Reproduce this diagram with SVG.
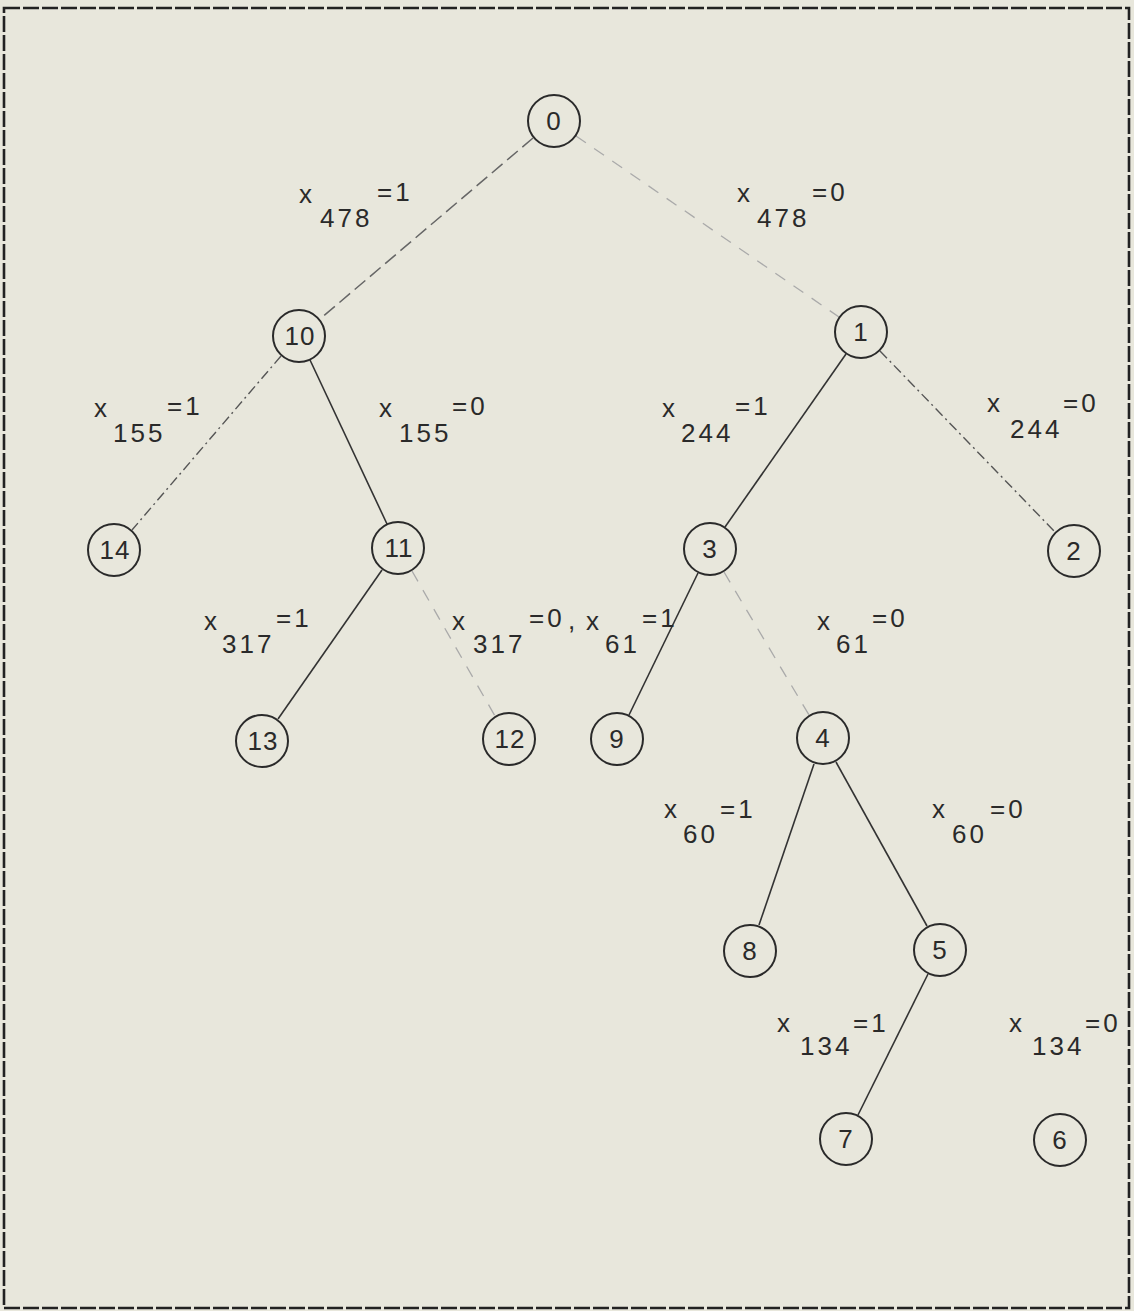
<svg xmlns="http://www.w3.org/2000/svg" width="1134" height="1311" viewBox="0 0 1134 1311">
<style>
.bg{fill:#e8e7dc}
.frame{fill:none;stroke:#222;stroke-width:2.6;stroke-dasharray:16 3}
.node circle{fill:none;stroke:#2a2a2a;stroke-width:2}
.node text{font-family:"Liberation Sans",Arial,sans-serif;font-size:26px;fill:#2a2a2a;text-anchor:middle;letter-spacing:1px}
.lbl text{font-family:"Liberation Sans",Arial,sans-serif;font-size:26px;fill:#2a2a2a;letter-spacing:3px}
.e{stroke:#333;stroke-width:1.6;fill:none}
.dash{stroke:#666;stroke-width:1.5;stroke-dasharray:14 6}
.dashdot{stroke:#555;stroke-width:1.4;stroke-dasharray:10 4 2 4}
.faint{stroke:#aaa;stroke-width:1.3;stroke-dasharray:12 10}
</style>
<rect class="bg" x="0" y="0" width="1134" height="1311"/>
<rect class="frame" x="4" y="8" width="1125" height="1300"/>

<g id="connectors">
<line class="e dash" x1="533" y1="138" x2="320" y2="319"/>
<line class="e faint" x1="576" y1="136" x2="839" y2="317"/>
<line class="e dashdot" x1="281" y1="356" x2="132" y2="530"/>
<line class="e" x1="310" y1="360" x2="387" y2="524"/>
<line class="e" x1="846" y1="354" x2="725" y2="527"/>
<line class="e dashdot" x1="880" y1="351" x2="1055" y2="532"/>
<line class="e" x1="382" y1="570" x2="278" y2="719"/>
<line class="e faint" x1="412" y1="571" x2="495" y2="716"/>
<line class="e" x1="698" y1="573" x2="629" y2="715"/>
<line class="e faint" x1="724" y1="572" x2="809" y2="715"/>
<line class="e" x1="814" y1="764" x2="759" y2="925"/>
<line class="e" x1="836" y1="762" x2="927" y2="926"/>
<line class="e" x1="928" y1="974" x2="858" y2="1115"/>
</g>

<g id="node0" class="node"><circle cx="554" cy="121" r="26"/><text x="554" y="130">0</text></g>
<g id="node10" class="node"><circle cx="299" cy="336" r="26"/><text x="300" y="345">10</text></g>
<g id="node1" class="node"><circle cx="861" cy="332" r="26"/><text x="861" y="341">1</text></g>
<g id="node14" class="node"><circle cx="114" cy="550" r="26"/><text x="115" y="559">14</text></g>
<g id="node11" class="node"><circle cx="398" cy="548" r="26"/><text x="399" y="557">11</text></g>
<g id="node3" class="node"><circle cx="710" cy="549" r="26"/><text x="710" y="558">3</text></g>
<g id="node2" class="node"><circle cx="1074" cy="551" r="26"/><text x="1074" y="560">2</text></g>
<g id="node13" class="node"><circle cx="262" cy="741" r="26"/><text x="263" y="750">13</text></g>
<g id="node12" class="node"><circle cx="509" cy="739" r="26"/><text x="510" y="748">12</text></g>
<g id="node9" class="node"><circle cx="617" cy="739" r="26"/><text x="617" y="748">9</text></g>
<g id="node4" class="node"><circle cx="823" cy="738" r="26"/><text x="823" y="747">4</text></g>
<g id="node8" class="node"><circle cx="750" cy="951" r="26"/><text x="750" y="960">8</text></g>
<g id="node5" class="node"><circle cx="940" cy="950" r="26"/><text x="940" y="959">5</text></g>
<g id="node7" class="node"><circle cx="846" cy="1139" r="26"/><text x="846" y="1148">7</text></g>
<g id="node6" class="node"><circle cx="1060" cy="1140" r="26"/><text x="1060" y="1149">6</text></g>

<g id="labels" class="lbl">
<text x="299" y="203">x</text><text x="320" y="227">478</text><text x="377" y="201">=1</text>
<text x="737" y="202">x</text><text x="757" y="227">478</text><text x="812" y="201">=0</text>
<text x="94" y="417">x</text><text x="113" y="442">155</text><text x="167" y="415">=1</text>
<text x="379" y="417">x</text><text x="399" y="442">155</text><text x="452" y="415">=0</text>
<text x="662" y="417">x</text><text x="681" y="442">244</text><text x="735" y="415">=1</text>
<text x="987" y="412">x</text><text x="1010" y="438">244</text><text x="1063" y="412">=0</text>
<text x="204" y="630">x</text><text x="222" y="653">317</text><text x="276" y="627">=1</text>
<text x="452" y="630">x</text><text x="473" y="653">317</text><text x="529" y="627">=0</text><text x="568" y="629">,</text><text x="586" y="630">x</text><text x="605" y="653">61</text><text x="642" y="627">=1</text>
<text x="817" y="630">x</text><text x="836" y="653">61</text><text x="872" y="627">=0</text>
<text x="664" y="818">x</text><text x="683" y="843">60</text><text x="720" y="818">=1</text>
<text x="932" y="818">x</text><text x="952" y="843">60</text><text x="990" y="818">=0</text>
<text x="777" y="1032">x</text><text x="800" y="1055">134</text><text x="853" y="1032">=1</text>
<text x="1009" y="1032">x</text><text x="1032" y="1055">134</text><text x="1085" y="1032">=0</text>
</g>
</svg>
